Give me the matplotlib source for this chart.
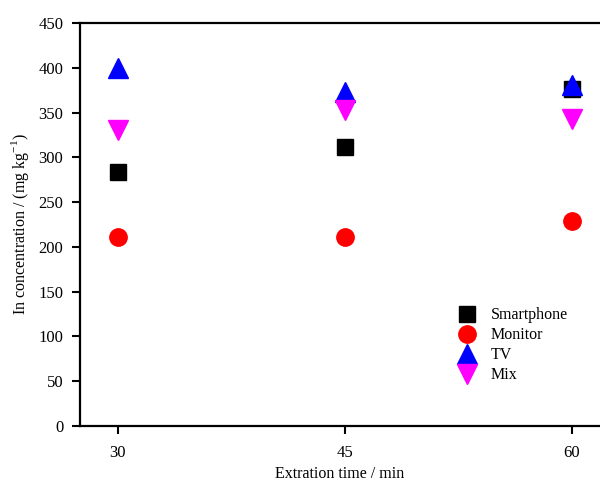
import matplotlib
matplotlib.use("Agg")
import matplotlib.pyplot as plt

plt.rcParams["font.family"] = ["Liberation Serif", "DejaVu Serif"]
plt.rcParams["mathtext.fontset"] = "custom"
plt.rcParams["mathtext.rm"] = "Liberation Serif"

# data
times = [30, 45, 60]
smartphone = [284, 311, 376]
monitor = [211, 211, 229]
tv = [400, 373, 381]
mix = [330, 353, 343]

fig = plt.figure(figsize=(6.0, 4.82), dpi=100)
ax = fig.add_axes([80 / 600, 56 / 482, 520 / 600, 403 / 482])

ax.plot(times, smartphone, ls="none", marker="s", ms=11, color="black", label="Smartphone")
ax.plot(times, monitor, ls="none", marker="o", ms=12.5, color="red", label="Monitor")
ax.plot(times, tv, ls="none", marker="^", ms=14, color="blue", label="TV")
ax.plot(times, mix, ls="none", marker="v", ms=14, color="magenta", label="Mix")

ax.set_xlim(27.5, 61.85)
ax.set_ylim(0, 450)
ax.set_xticks(times)
ax.set_yticks(range(0, 451, 50))

for side in ["left", "bottom", "top"]:
    ax.spines[side].set_linewidth(1.6)
ax.spines["right"].set_visible(False)
ax.tick_params(direction="out", length=6, width=1.5, labelsize=12, pad=6)
ax.tick_params(axis="x", pad=8)

ax.set_xlabel("Extration time / min", fontsize=11.5, labelpad=3)
ax.set_ylabel(r"In concentration / (mg kg$^{\mathregular{-1}}$)", fontsize=11.5, labelpad=5)

ax.legend(loc="lower right", bbox_to_anchor=(0.95, 0.09), frameon=False, fontsize=11.5,
          handletextpad=0.9, labelspacing=0.25, handlelength=1.2, borderaxespad=0)

fig.savefig("out.png", dpi=100)
